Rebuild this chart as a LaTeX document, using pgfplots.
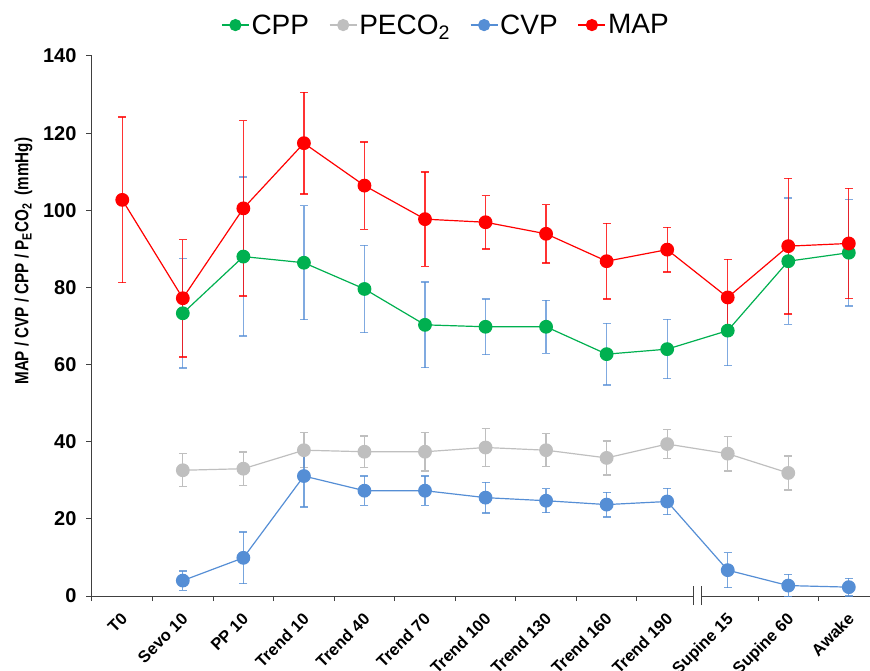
\documentclass[border=0pt]{standalone}
\usepackage{pgfplots}
\pgfplotsset{compat=1.18}
\usepackage{fontspec}
\setmainfont{Liberation Sans}
\definecolor{cppgreen}{HTML}{00B050}
\definecolor{pgray}{HTML}{BFBFBF}
\definecolor{cvpblue}{HTML}{558ED5}
\definecolor{mapred}{HTML}{FF0000}
\definecolor{axgray}{HTML}{404040}
\begin{document}
\begin{tikzpicture}
\begin{axis}[
  scale only axis,
  width=778pt, height=540pt,
  xmin=-0.5, xmax=12.35,
  ymin=0, ymax=140,
  clip=false,
  axis lines=left,
  axis line style={-, axgray, line width=1pt},
  ytick={0,20,...,140},
  xtick={0,...,12},
  xticklabels={T0,Sevo 10,PP 10,Trend 10,Trend 40,Trend 70,Trend 100,Trend 130,Trend 160,Trend 190,Supine 15,Supine 60,Awake},
  minor xtick={-0.5,0.5,1.5,2.5,3.5,4.5,5.5,6.5,7.5,8.5,10.5,11.5},
  major x tick style={draw=none},
  tick align=outside,
  major tick length=6pt,
  minor tick length=5pt,
  tick style={axgray, line width=1pt},
  /pgf/number format/assume math mode=true,
  tick label style={font=\bfseries\fontsize{20}{22}\selectfont},
  xticklabel style={rotate=45, anchor=north east, yshift=-2pt, xshift=-5pt, font=\bfseries\fontsize{16.5}{18}\selectfont},
  yticklabel style={xshift=-6pt},
  ylabel={\scalebox{0.8}[1]{MAP / CVP / CPP / P\textsubscript{E}CO\textsubscript{2}\ \ (mmHg)}},
  ylabel style={at={(axis description cs:-0.088,0.62)}, anchor=center, font=\bfseries\fontsize{19}{21}\selectfont},
  legend columns=4,
  legend style={draw=none, at={(0.455,1.03)}, anchor=south, font=\fontsize{28}{30}\selectfont,
    /tikz/every even column/.append style={column sep=18pt}, inner sep=2pt},
  legend image code/.code={\draw[mark repeat=2,mark phase=2,mark size=5.5pt] plot coordinates {(0pt,0pt) (13.5pt,0pt) (27pt,0pt)};},
  every axis plot/.append style={line width=1.2pt, mark=*, mark size=6.3pt},
  error bars/y dir=both, error bars/y explicit,
]
% CPP
\addplot[color=cppgreen, mark options={fill=cppgreen, draw=cppgreen},
  error bars/error bar style={cvpblue, opacity=0.75, line width=1.3pt},
  error bars/error mark options={cvpblue, opacity=0.75, line width=1.3pt, mark size=4pt, rotate=90}]
coordinates {
(1,73.3) +- (0,14.2)
(2,88.0) +- (0,20.6)
(3,86.4) +- (0,14.8)
(4,79.6) +- (0,11.3)
(5,70.3) +- (0,11.1)
(6,69.8) +- (0,7.2)
(7,69.8) +- (0,6.9)
(8,62.7) +- (0,8.0)
(9,64.0) +- (0,7.7)
(10,68.8) +- (0,9.1)
(11,86.8) +- (0,16.4)
(12,89.0) +- (0,13.8)
};
\addlegendentry{CPP}
% PECO2
\addplot[color=pgray, mark options={fill=pgray, draw=pgray},
  error bars/error bar style={pgray, line width=1.3pt},
  error bars/error mark options={pgray, line width=1.3pt, mark size=4pt, rotate=90}]
coordinates {
(1,32.6) +- (0,4.3)
(2,33.0) +- (0,4.3)
(3,37.8) +- (0,4.5)
(4,37.4) +- (0,4.1)
(5,37.4) +- (0,5.0)
(6,38.5) +- (0,5.0)
(7,37.8) +- (0,4.3)
(8,35.8) +- (0,4.4)
(9,39.4) +- (0,3.7)
(10,36.9) +- (0,4.5)
(11,31.9) +- (0,4.4)
};
\addlegendentry{PECO\textsubscript{2}}
% CVP
\addplot[color=cvpblue, mark options={fill=cvpblue, draw=cvpblue},
  error bars/error bar style={cvpblue, opacity=0.8, line width=1.3pt},
  error bars/error mark options={cvpblue, opacity=0.8, line width=1.3pt, mark size=4pt, rotate=90}]
coordinates {
(1,4.0) +- (0,2.5)
(2,9.9) +- (0,6.7)
(3,31.1) +- (0,8.0)
(4,27.3) +- (0,3.8)
(5,27.3) +- (0,3.8)
(6,25.5) +- (0,4.0)
(7,24.7) +- (0,3.1)
(8,23.7) +- (0,3.2)
(9,24.5) +- (0,3.4)
(10,6.7) +- (0,4.5)
(11,2.7) +- (0,2.9)
(12,2.3) +- (0,2.3)
};
\addlegendentry{CVP}
% MAP
\addplot[color=mapred, mark options={fill=mapred, draw=mapred},
  error bars/error bar style={mapred, opacity=0.8, line width=1.3pt},
  error bars/error mark options={mapred, opacity=0.8, line width=1.3pt, mark size=4pt, rotate=90}]
coordinates {
(0,102.7) +- (0,21.5)
(1,77.2) +- (0,15.2)
(2,100.5) +- (0,22.7)
(3,117.4) +- (0,13.2)
(4,106.4) +- (0,11.3)
(5,97.7) +- (0,12.2)
(6,96.9) +- (0,6.9)
(7,93.9) +- (0,7.6)
(8,86.8) +- (0,9.8)
(9,89.8) +- (0,5.8)
(10,77.4) +- (0,9.9)
(11,90.7) +- (0,17.6)
(12,91.4) +- (0,14.3)
};
\addlegendentry{MAP}
% axis break
\fill[white] ([xshift=-3.5pt,yshift=-2pt]axis cs:9.5,0) rectangle ([xshift=3.5pt,yshift=2pt]axis cs:9.5,0);
\draw[axgray, line width=1.2pt] ([xshift=-4pt,yshift=-9pt]axis cs:9.5,0) -- ([xshift=-4pt,yshift=10pt]axis cs:9.5,0);
\draw[axgray, line width=1.2pt] ([xshift=4pt,yshift=-9pt]axis cs:9.5,0) -- ([xshift=4pt,yshift=10pt]axis cs:9.5,0);
\coordinate (bl) at (rel axis cs:0,0);
\coordinate (tr) at (rel axis cs:1,1);
\end{axis}
\pgfresetboundingbox
\path[use as bounding box] ([xshift=-92pt,yshift=-74pt]bl) rectangle ([yshift=56pt]tr);
\end{tikzpicture}
\end{document}
